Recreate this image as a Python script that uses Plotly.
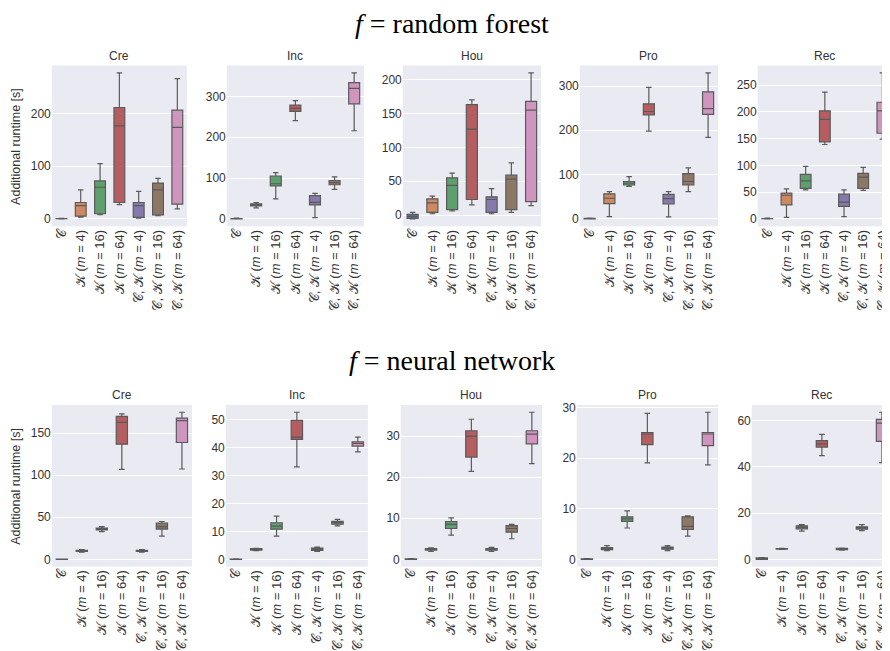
import plotly.graph_objects as go

# The page body has an 8px default margin, so the figure is drawn at (8, 8) in the window.
OFF = 8
WIN_W, WIN_H = 890, 651
W, H = WIN_W - OFF, WIN_H - OFF

CATEGORIES = ["C", "K4", "K16", "K64", "CK4", "CK16", "CK64"]
TICK_LABELS = [
    "𝒞",
    "𝒦 (<i>m</i> = 4)",
    "𝒦 (<i>m</i> = 16)",
    "𝒦 (<i>m</i> = 64)",
    "𝒞, 𝒦 (<i>m</i> = 4)",
    "𝒞, 𝒦 (<i>m</i> = 16)",
    "𝒞, 𝒦 (<i>m</i> = 64)",
]
DATASETS = ["Cre", "Inc", "Hou", "Pro", "Rec"]
MODEL_TITLES = ["<i>f</i> = random forest", "<i>f</i> = neural network"]
COLORS = ["#5975a4", "#cc8963", "#5f9e6e", "#b55d60", "#857aab", "#8d7866", "#d095bf"]

# each row: [lower whisker, q1, median, q3, upper whisker] per category
RF_CRE = [[-0.5, 0, 0, 0.5, 1], [3, 5, 25, 31, 55], [8, 9.5, 60, 72, 105], [27, 31, 177, 212, 278],
          [1, 2.6, 25, 31, 52], [6, 7.5, 55, 68, 77], [19, 28, 174, 207, 267]]
RF_INC = [[-0.5, 0, 0.3, 0.8, 1.5], [27, 31.6, 34, 36.5, 40], [48.7, 81, 86, 105, 113.5], [241, 263.6, 271, 279, 290],
          [3, 34, 40.5, 57, 62.5], [72, 83.5, 89, 94, 103], [216, 282, 320, 334, 358]]
RF_HOU = [[-5.8, -4.9, -2, 1, 3.9], [2, 4, 18, 24, 28], [6, 8, 44, 55, 62], [15, 23, 127, 163, 170],
          [2, 4, 23, 27, 39], [4, 8, 53, 59, 77], [14, 20, 155, 168, 210]]
RF_PRO = [[-1, -0.5, 0, 0.5, 1], [4.5, 34, 46, 56, 61], [73, 76, 80, 84, 95], [198, 235, 242.5, 260, 297],
          [4, 33, 45, 55, 61], [61, 76, 84, 102, 115], [184, 236, 249, 287, 330]]
RF_REC = [[-0.5, 0, 0, 0.5, 1], [2.5, 26, 44, 48, 56], [54, 57, 71, 83, 98], [139, 144, 186, 202, 237],
          [4, 23, 31, 46, 54], [53, 57, 78, 85, 96], [149, 160, 202, 218, 273]]

NN_CRE = [[0, 0, 0.1, 0.2, 0.3], [8.5, 9.5, 10, 10.8, 11.5], [33, 35, 36, 37, 39], [107, 137, 163, 170, 173],
          [8.5, 9.5, 10, 10.8, 11.5], [27.5, 36, 39, 43, 45], [107.5, 139, 165, 168, 175]]
NN_INC = [[0, 0, 0.05, 0.1, 0.15], [3.1, 3.3, 3.5, 3.8, 3.9], [8.3, 10.8, 11.9, 13.1, 15.5], [33.1, 43, 43.8, 49.8, 52.7],
          [2.8, 3.2, 3.6, 4.0, 4.4], [12, 12.6, 13.2, 13.6, 14.3], [38.5, 40.6, 41.5, 42.1, 43.8]]
NN_HOU = [[0, 0, 0.05, 0.1, 0.15], [1.9, 2.2, 2.4, 2.6, 2.8], [5.9, 7.5, 8.5, 9.2, 10.1], [21.4, 24.9, 30, 31.3, 34.1],
          [1.9, 2.2, 2.4, 2.6, 2.9], [5, 6.6, 7.5, 8.2, 8.5], [23.3, 28.1, 30.5, 31.3, 35.8]]
NN_PRO = [[0, 0, 0.05, 0.1, 0.15], [1.7, 1.9, 2.1, 2.3, 2.7], [6.2, 7.5, 8.0, 8.4, 9.6], [19.1, 22.7, 24.8, 25.1, 28.9],
          [1.7, 2.0, 2.2, 2.4, 2.7], [4.6, 5.9, 6.5, 8.4, 8.6], [18.7, 22.5, 24.8, 25.1, 29.1]]
NN_REC = [[0, 0, 0.3, 0.6, 0.7], [4.3, 4.4, 4.5, 4.6, 4.7], [12.2, 13.2, 13.8, 14.5, 15], [44.9, 48.6, 50, 51.4, 54.1],
          [4.0, 4.2, 4.5, 4.7, 4.9], [12.4, 13.1, 13.7, 14.1, 15], [41.9, 51.1, 59, 60.6, 63.7]]

PANELS = [[RF_CRE, RF_INC, RF_HOU, RF_PRO, RF_REC], [NN_CRE, NN_INC, NN_HOU, NN_PRO, NN_REC]]
Y_DTICKS = [[100, 100, 50, 100, 50], [50, 10, 10, 10, 20]]

# layout in window pixels
ROW_X = [[(52, 188), (228, 366), (405, 544), (583, 722), (762, 897)],
         [(52, 193), (227, 370), (403, 545), (580, 722), (756, 897)]]
ROW_Y = [(62, 224), (404, 567)]
TITLE_Y = [20, 359]
SUB_Y = [52, 394]


def fx(p):
    return (p - OFF) / W


def fy(p):
    return 1 - (p - OFF) / H


LINE = "#5a5a5a"
TXT = "#333333"
SANS = "Liberation Sans, Arial, sans-serif"

fig = go.Figure()
layout = dict(
    width=W, height=H, margin=dict(l=0, r=0, t=0, b=0),
    paper_bgcolor="white", plot_bgcolor="#EAEAF2",
    showlegend=False, boxmode="overlay", boxgap=0.2,
    annotations=[],
)

n = 0
for r in range(2):
    for c in range(5):
        n += 1
        stats = PANELS[r][c]
        xs = "x" if n == 1 else f"x{n}"
        ys = "y" if n == 1 else f"y{n}"
        for k, cat in enumerate(CATEGORIES):
            lo, q1, med, q3, hi = stats[k]
            fig.add_trace(go.Box(
                x=[cat], q1=[q1], median=[med], q3=[q3], lowerfence=[lo], upperfence=[hi],
                fillcolor=COLORS[k], line=dict(color=LINE, width=1.2), whiskerwidth=0.5,
                xaxis=xs, yaxis=ys, hoverinfo="skip",
            ))
        lows = [s[0] for s in stats]
        highs = [s[4] for s in stats]
        span = max(highs) - min(lows)
        yr = [min(lows) - 0.05 * span, max(highs) + 0.05 * span]
        x0, x1 = ROW_X[r][c]
        vis1 = min(x1, WIN_W)
        xr_end = -0.5 + 7 * (vis1 - x0) / (x1 - x0)
        y0, y1 = ROW_Y[r]
        xkey = "xaxis" if n == 1 else f"xaxis{n}"
        ykey = "yaxis" if n == 1 else f"yaxis{n}"
        layout[xkey] = dict(
            domain=[fx(x0), fx(vis1)], anchor=ys, type="category",
            categoryorder="array", categoryarray=CATEGORIES,
            range=[-0.5, xr_end], tickvals=CATEGORIES, ticktext=TICK_LABELS,
            tickangle=-90, tickfont=dict(family=SANS, size=13, color=TXT),
            showgrid=False, zeroline=False, showline=False, ticks="", fixedrange=True,
        )
        layout[ykey] = dict(
            domain=[fy(y1), fy(y0)], anchor=xs, range=yr, dtick=Y_DTICKS[r][c], tick0=0,
            tickfont=dict(family=SANS, size=12, color=TXT), gridcolor="white", gridwidth=1,
            zeroline=False, showline=False, ticks="", fixedrange=True,
        )
        layout["annotations"].append(dict(
            text=DATASETS[c], x=fx((x0 + x1) / 2), y=fy(SUB_Y[r]), xref="paper", yref="paper",
            showarrow=False, font=dict(family=SANS, size=12, color=TXT), xanchor="center", yanchor="middle",
        ))
    layout["annotations"].append(dict(
        text=MODEL_TITLES[r], x=fx(455), y=fy(TITLE_Y[r]), xref="paper", yref="paper",
        showarrow=False, font=dict(family="Liberation Serif, DejaVu Serif, serif", size=28, color="black"),
        xanchor="center", yanchor="middle",
    ))
    yc = (ROW_Y[r][0] + ROW_Y[r][1]) / 2
    layout["annotations"].append(dict(
        text="Additional runtime [s]", x=fx(16), y=fy(yc), xref="paper", yref="paper",
        showarrow=False, textangle=-90, font=dict(family=SANS, size=12.5, color=TXT),
        xanchor="center", yanchor="middle",
    ))

fig.update_layout(**layout)
fig.write_html("out.html", config={"displayModeBar": False})
